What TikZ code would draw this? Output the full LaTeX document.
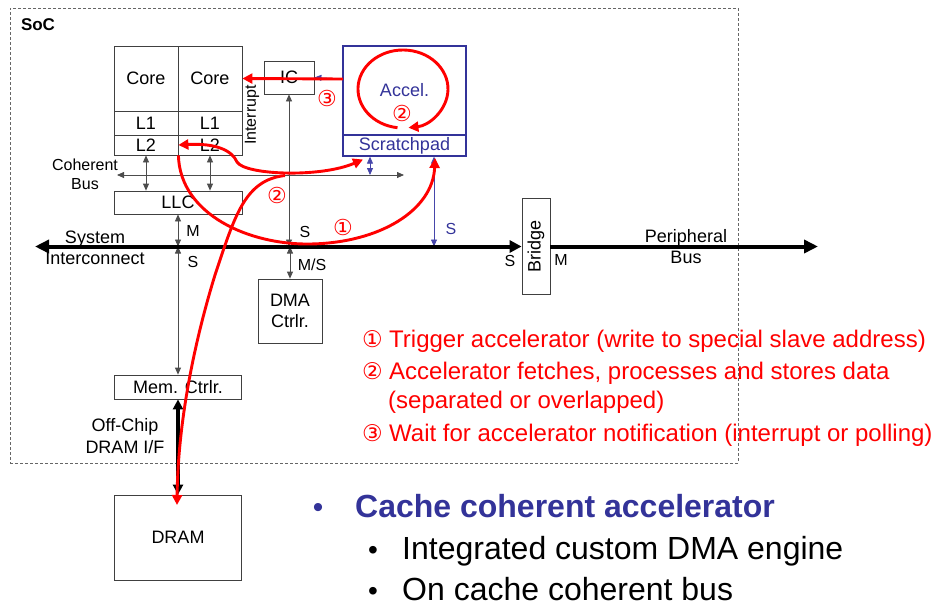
\documentclass[tikz,border=0pt]{standalone}
\usepackage{fontspec}
\setmainfont{Liberation Sans}
\newfontfamily\dv{DejaVu Sans}
\usetikzlibrary{arrows.meta,calc}
\definecolor{accblue}{RGB}{51,51,153}
\definecolor{lineblue}{RGB}{70,70,170}
\newcommand{\fsz}[2]{\fontsize{#1}{#2}\selectfont}
\tikzset{
  redtip/.tip={Triangle[length=10pt,width=10pt]},
  smtip/.tip={Triangle[length=7pt,width=6pt]}
}
\begin{document}
\begin{tikzpicture}[x=1pt,y=-1pt,
  box/.style={draw=black!75, line width=0.8pt, inner sep=0pt, font=\fsz{18}{20}, align=center},
  bbox/.style={box, draw=accblue, line width=1.3pt, text=accblue},
  lab/.style={inner sep=0pt, font=\fsz{16}{19}, align=center},
  circ/.style={inner sep=0pt, text=red, font=\dv\fsz{22}{24}},
  thinline/.style={draw=black!70, line width=0.8pt},
  dbl/.style={thinline, smtip-smtip},
  bdbl/.style={draw=lineblue, line width=0.8pt, smtip-smtip},
  busline/.style={draw=black, line width=4pt},
  redline/.style={draw=red, line width=2.9pt},
  rtext/.style={anchor=base west, inner sep=0pt, text=red, font=\fsz{24}{28}},
  rnum/.style={anchor=base west, inner sep=0pt, text=red, font=\dv\fsz{23}{26}}
]
\useasboundingbox (0,0) rectangle (935,608);

% SoC frame
\node[draw=black!60, dash pattern=on 3pt off 2pt, line width=0.8pt, minimum width=728pt, minimum height=455pt, inner sep=0pt] (soc) at (374,235.5) {};
\node[inner sep=0pt, font=\bfseries\fsz{17}{20}] (soclab) at (38,25) {SoC};

% cores
\node[box, minimum width=64pt, minimum height=65pt] (core1) at (146,78.5) {Core};
\node[box, minimum width=64pt, minimum height=65pt] (core2) at (210,78.5) {Core};
\node[box, minimum width=64pt, minimum height=24pt] (l1a) at (146,123) {L1};
\node[box, minimum width=64pt, minimum height=24pt] (l1b) at (210,123) {L1};
\node[box, minimum width=64pt, minimum height=20pt] (l2a) at (146,145) {L2};
\node[box, minimum width=64pt, minimum height=20pt] (l2b) at (210,145) {L2};
\node[box, minimum width=128pt, minimum height=23pt] (llc) at (178,202.5) {LLC};
\node[box, minimum width=50pt, minimum height=33pt] (ic) at (289,77.5) {IC};
\node[bbox, minimum width=123pt, minimum height=89pt] (accel) at (404.5,90.5) {Accel.};
\node[bbox, minimum width=123pt, minimum height=21pt] (scratch) at (404.5,145.5) {Scratchpad};
\node[box, minimum width=28pt, minimum height=96pt] (bridge) at (536,246.5) {};
\node[inner sep=0pt, font=\fsz{18}{20}, rotate=90] (bridgelab) at (bridge.center) {Bridge};
\node[box, minimum width=64pt, minimum height=64pt] (dma) at (290,311) {DMA\\[1pt]Ctrlr.};
\node[box, minimum width=127pt, minimum height=24pt] (mem) at (178,387) {Mem. Ctrlr.};
\node[box, minimum width=127pt, minimum height=85pt] (dram) at (178,537.5) {DRAM};

% labels
\node[lab, font=\fsz{16}{19}] (cohlab) at (85,174.5) {Coherent\\Bus};
\node[lab, rotate=90, font=\fsz{16}{19}] (intlab) at (252,115) {Interrupt};
\node[lab, font=\fsz{18}{21}] (syslab) at (95,247.5) {System\\Interconnect};
\node[lab, font=\fsz{18}{21}] (perlab) at (686,247) {Peripheral\\Bus};
\node[lab, font=\fsz{18}{22}] (offlab) at (125,436) {Off-Chip\\DRAM I/F};
\node[lab] (lM1) at (193,231) {M};
\node[lab] (lS1) at (193,262) {S};
\node[lab] (lS2) at (305,232) {S};
\node[lab] (lMS) at (312,265) {M/S};
\node[lab, text=accblue] (lS3) at (451,229) {S};
\node[lab] (lS4) at (510,261) {S};
\node[lab] (lM2) at (561,260) {M};

% coordinates
\coordinate (cbL) at (117,175);
\coordinate (cbR) at (404,175);
\coordinate (busL) at (35,246.5);
\coordinate (busR) at (818,246.5);
\coordinate (bx1) at (370,175);
\coordinate (bx2) at (434,246.5);
\coordinate (accIC) at (343,79);

% thin connectors
\draw[dbl] (cbL) -- (cbR);
\draw[dbl] (l2a.south) -- (l2a.south |- llc.north);
\draw[dbl] (l2b.south) -- (l2b.south |- llc.north);
\draw[dbl] (llc.south) -- (llc.south |- busL);
\draw[dbl] (mem.north) -- (mem.north |- busL);
\draw[dbl] (ic.south) -- (ic.south |- busL);
\draw[dbl] (dma.north) -- (dma.north |- busL);
\draw[bdbl] (bx1 |- scratch.south) -- (bx1);
\draw[bdbl] (bx2 |- scratch.south) -- (bx2);
\draw[draw=lineblue, line width=0.8pt, -smtip] (accIC) -- (ic.east);

% buses
\draw[busline, {Triangle[length=14pt,width=13pt]}-{Triangle[length=12pt,width=12pt]}] (busL) -- (bridge.west);
\draw[busline, -{Triangle[length=14pt,width=13pt]}] (bridge.east) -- (busR);
\draw[draw=black, line width=3.5pt, {Triangle[length=10pt,width=10pt]}-{Triangle[length=10pt,width=10pt]}] (mem.south) -- (dram.north);

% red flows
\draw[redline, -redtip] (accIC) -- (core2.east);
\draw[redline, -redtip] (l2a.south east) .. controls (180,215) and (250,245) .. (310,244) .. controls (380,243) and (433,210) .. (435,158);
\coordinate (sp2) at (363,159.5);
\draw[redline, redtip-redtip] (l2a.east) .. controls (215,143) and (232,150) .. (237,162) .. controls (245,175) and (320,178) .. (sp2);
\coordinate (dr) at (177,505);
\draw[redline, -redtip] (285,175.5) .. controls (245,180) and (235,215) .. (215,275) .. controls (195,340) and (178,420) .. (dr);
\draw[redline, -redtip] (397.5,127.7) arc[start angle=97, end angle=443, x radius=45, y radius=39];

\node[circ] (c1) at (343,227) {①};
\node[circ] (c2) at (277,195) {②};
\node[circ] (c3) at (327,98) {③};
\node[circ] (c2b) at (402,113) {②};

% red text
\node[rnum] (t1n) at (362,347) {①};
\node[rtext] (t1) at (389,347) {Trigger accelerator (write to special slave address)};
\node[rnum] (t2n) at (362,379) {②};
\node[rtext] (t2) at (389,379) {Accelerator fetches, processes and stores data};
\node[rtext] (t2b) at (388,408) {(separated or overlapped)};
\node[rnum] (t3n) at (362,441) {③};
\node[rtext] (t3) at (389,441) {Wait for accelerator notification (interrupt or polling)};

% bullets
\node[anchor=base, inner sep=0pt, text=accblue, font=\fsz{30}{36}] (b1d) at (318,517) {•};
\node[anchor=base west, inner sep=0pt, text=accblue, font=\bfseries\fsz{32}{36}] (b1) at (355,517) {Cache coherent accelerator};
\node[anchor=base, inner sep=0pt, font=\fsz{28}{36}] (b2d) at (373,559) {•};
\node[anchor=base west, inner sep=0pt, font=\fsz{32}{36}] (b2) at (402,559) {Integrated custom DMA engine};
\node[anchor=base, inner sep=0pt, font=\fsz{28}{36}] (b3d) at (373,600) {•};
\node[anchor=base west, inner sep=0pt, font=\fsz{32}{36}] (b3) at (402,600) {On cache coherent bus};
\end{tikzpicture}
\end{document}
